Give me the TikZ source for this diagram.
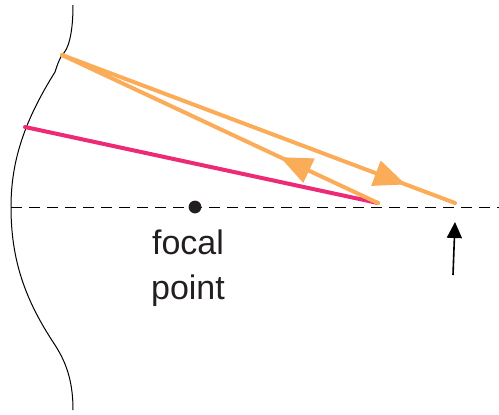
\documentclass[tikz,border=0pt]{standalone}
\usepackage{fontspec}
\setmainfont{Liberation Sans}
\usepackage{xcolor}
\usetikzlibrary{arrows.meta, positioning, calc, decorations.markings}
\definecolor{rayorange}{RGB}{250, 172, 88}
\definecolor{raypink}{RGB}{236, 42, 118}
\definecolor{textgray}{RGB}{35, 31, 32}
\tikzstyle{mirror} = [draw=black, line width=0.5pt]
\tikzstyle{axis} = [draw=black, line width=0.5pt, dash pattern=on 5.5pt off 3.5pt]
\tikzstyle{ray} = [line width=2pt, line cap=round]
\tikzstyle{midarrow} = [postaction={decorate}, decoration={markings, mark=at position #1 with {\arrow{Triangle[length=16pt, width=13pt]}}}]
\tikzstyle{pointer} = [-{Triangle[length=8pt, width=7.5pt]}, line width=0.8pt]

\begin{document}
\begin{tikzpicture}[x=0.5pt, y=-0.5pt]
    \useasboundingbox (0,0) rectangle (499,414);

    % Mirror
    \coordinate (mtop) at (73,5);
    \coordinate (mbot) at (73,410);
    \coordinate (hit1) at (62,55);
    \coordinate (hit2) at (25,127);
    \path[mirror] (mtop) .. controls (73,35) and (68,50) .. (hit1)
        .. controls (58,62) and (57,66) .. (55,72)
        .. controls (25,120) and (11,160) .. (11,207)
        .. controls (11,260) and (25,300) .. (55,345)
        .. controls (68,365) and (73,385) .. (mbot);

    % Axis
    \coordinate (axl) at (11,207);
    \coordinate (axr) at (499,207);
    \path[axis] (axl) -- (axr);

    % Focal point
    \fill[textgray] (195,207) circle (3.2pt);
    \node[text=textgray, font=\fontsize{17}{22.5}\selectfont, align=center] (focal) at (188,268) {focal\\point};

    % Points on the axis
    \coordinate (near) at (378,203);
    \coordinate (far) at (455,203);

    % Rays
    \draw[ray, raypink] (hit2) -- (near);
    \draw[ray, rayorange, midarrow=0.31, rayorange] (near) -- (hit1);
    \draw[ray, rayorange, midarrow=0.875, rayorange] (hit1) -- (far);

    % Pointer
    \coordinate (ptail) at (453,275);
    \coordinate (ptip) at (455,222);
    \draw[pointer] (ptail) -- (ptip);
\end{tikzpicture}
\end{document}
